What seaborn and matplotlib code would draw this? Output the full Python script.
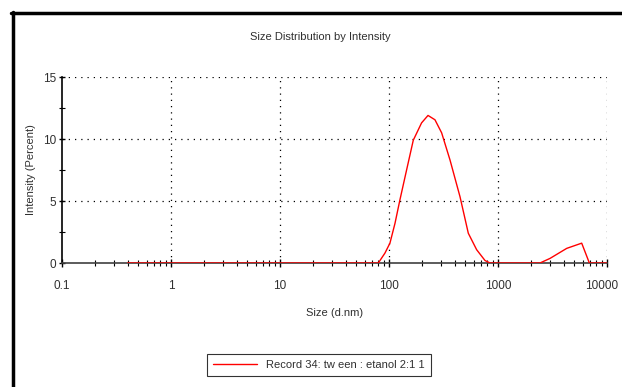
import numpy as np
import pandas as pd
import seaborn as sns
import matplotlib.pyplot as plt
import matplotlib.transforms as mtransforms
from matplotlib.ticker import FixedLocator, NullFormatter

# size (d.nm) and intensity (%)
size_nm = [0.4, 1, 10, 50, 79.8, 91.8, 102, 113.5, 126, 145, 167, 199, 228, 264,
           304, 363, 448, 534, 637, 760, 845, 1000, 2427, 3000, 4270, 5860, 6890, 10000]
intensity = [0, 0, 0, 0, 0, 0.8, 1.6, 3.2, 5.1, 7.5, 9.9, 11.3, 11.9, 11.55,
             10.5, 8.3, 5.35, 2.4, 1.07, 0.2, 0, 0, 0, 0.37, 1.18, 1.6, 0, 0]
x_ticks = [0.1, 1, 10, 100, 1000, 10000]
x_labels = ["0.1", "1", "10", "100", "1000", "10000"]
y_ticks = [0, 5, 10, 15]
record = "Record 34: tw een : etanol 2:1 1"

df = pd.DataFrame({"size": size_nm, "intensity": intensity})

sns.set_style("white")
plt.rcParams['font.family'] = ['Liberation Sans', 'DejaVu Sans']

fs = 8

fig = plt.figure(figsize=(6.22, 3.87), dpi=100)
ax = fig.add_axes([62 / 622, 1 - 263 / 387, 545 / 622, 186 / 387])

sns.lineplot(data=df, x="size", y="intensity", ax=ax, color="red", linewidth=1,
             label=record, zorder=3)
ax.set_xscale("log")
ax.set_xlim(0.1, 10000)
ax.set_ylim(0, 15)

ax.xaxis.set_major_locator(FixedLocator(x_ticks))
ax.set_xticklabels(x_labels)
ax.xaxis.set_minor_locator(FixedLocator(
    [m * 10.0 ** e for e in range(-1, 4) for m in range(2, 10)]))
ax.xaxis.set_minor_formatter(NullFormatter())
ax.set_yticks(y_ticks)
ax.set_yticks([2.5, 7.5, 12.5], minor=True)

ax.tick_params(axis="both", which="both", direction="inout", colors="black",
               labelsize=8.5, labelcolor="#303030", bottom=True, left=True)
ax.tick_params(axis="x", which="major", length=6, width=1, pad=9)
ax.tick_params(axis="x", which="minor", length=5, width=0.8)
ax.tick_params(axis="y", which="major", length=4, width=1, pad=2)
ax.tick_params(axis="y", which="minor", length=4, width=0.8)

# keep the last x label inside the figure
last = ax.get_xticklabels()[-1]
last.set_transform(last.get_transform() +
                   mtransforms.ScaledTranslation(-5 / 100, 0, fig.dpi_scale_trans))

for s in ["top", "right"]:
    ax.spines[s].set_visible(False)
ax.spines["left"].set_color("black")
ax.spines["left"].set_linewidth(1.2)
ax.spines["bottom"].set_color("#404040")
ax.spines["bottom"].set_linewidth(1.2)

# dotted grid
for xv in x_ticks[1:]:
    ax.axvline(xv, color="black", linestyle=(0, (1, 4)), linewidth=0.9, zorder=1)
for yv in y_ticks[1:]:
    ax.axhline(yv, color="black", linestyle=(0, (1, 4)), linewidth=0.9, zorder=1)

ax.set_xlabel("Size (d.nm)", fontsize=fs, color="#303030", labelpad=12)
ax.set_ylabel("Intensity (Percent)", fontsize=fs, color="#303030", labelpad=5)
fig.text(320 / 622, 1 - 37 / 387, "Size Distribution by Intensity", ha="center",
         va="center", fontsize=fs, color="#303030")

leg = ax.legend(loc="center", bbox_to_anchor=(319 / 622, 1 - 365 / 387),
                bbox_transform=fig.transFigure, frameon=True, fancybox=False,
                fontsize=fs, handlelength=4, borderpad=0.5, borderaxespad=0)
leg.get_frame().set_edgecolor("black")
leg.get_frame().set_linewidth(0.8)
for t in leg.get_texts():
    t.set_color("#303030")

# outer frame lines
fig.add_artist(plt.Line2D([12.5 / 622, 12.5 / 622], [0, 1 - 12 / 387], color="black",
                          linewidth=2.5, transform=fig.transFigure))
fig.add_artist(plt.Line2D([11 / 622, 1], [1 - 12.5 / 387, 1 - 12.5 / 387], color="black",
                          linewidth=2.5, transform=fig.transFigure))

fig.savefig("out.png", dpi=100)
